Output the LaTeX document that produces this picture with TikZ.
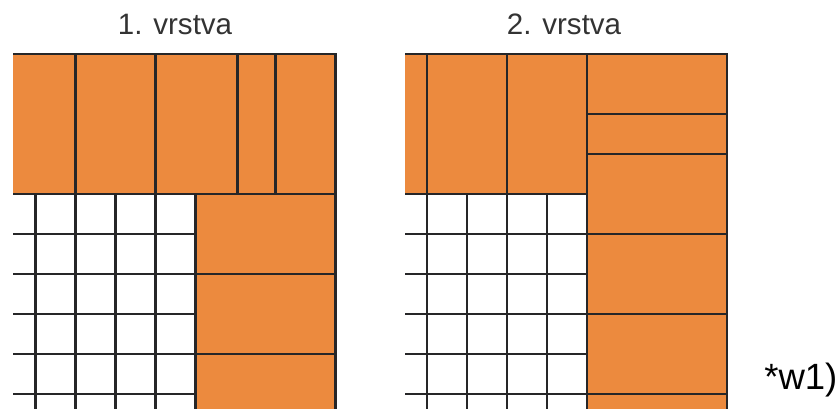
\documentclass[tikz,border=0pt]{standalone}
\usepackage{fontspec}
\setmainfont{Liberation Sans}
\usepackage{xcolor}
\definecolor{brick}{RGB}{236,138,62}
\definecolor{joint}{RGB}{38,38,40}
\usepackage{tikz}
\usetikzlibrary{
    arrows.meta,
    positioning,
    calc
}

\begin{document}
\begin{tikzpicture}[
        paver/.style={fill=brick, draw=none},
        seam/.style={draw=joint, line width=1.9pt},
        heading/.style={anchor=base, inner sep=0pt, font=\fontsize{21}{25}\selectfont, text=black!80}
    ]
        \useasboundingbox (0,0) rectangle (20.925,-10.225);
        \clip (0,0) rectangle (20.925,-10.225);

        % titles
        \node[heading] (title1) at (4.375,-0.875) {1. vrstva};
        \node[heading] (title2) at (14.1,-0.875) {2. vrstva};
        \node[anchor=base west, inner sep=0pt, font=\fontsize{26}{30}\selectfont] (note) at (19.1,-9.75) {*w1)};

        % 1. vrstva
        \begin{scope}[shift={(0.8875,-4.85)}]
            \fill[paver] (-0.55,0) rectangle (7.5,3.5);
            \fill[paver] (4,0) rectangle (7.5,-6);
            \draw[seam] (-0.55,3.5) -- (7.5,3.5) -- (7.5,-6);
            \draw[seam] (-0.55,0) -- (7.5,0);
            \foreach \x in {1,3,5.05,6}
                \draw[seam] (\x,0) -- (\x,3.5);
            \foreach \y in {-1,-3,-5}
                \draw[seam] (-0.55,\y) -- (4,\y);
            \foreach \y in {-2,-4}
                \draw[seam] (-0.55,\y) -- (7.5,\y);
            \foreach \x in {0,1,2,3,4}
                \draw[seam] (\x,0) -- (\x,-6);
        \end{scope}

        % 2. vrstva
        \begin{scope}[shift={(10.675,-4.85)}]
            \fill[paver] (-0.55,0) rectangle (4,3.5);
            \fill[paver] (4,3.5) rectangle (7.5,-6);
            \draw[seam] (-0.55,3.5) -- (7.5,3.5) -- (7.5,-6);
            \draw[seam] (-0.55,0) -- (4,0);
            \foreach \x in {0,2}
                \draw[seam] (\x,0) -- (\x,3.5);
            \draw[seam] (4,3.5) -- (4,-6);
            \foreach \y in {2,1,-1,-3,-5}
                \draw[seam] (4,\y) -- (7.5,\y);
            \foreach \y in {-1,-2,-3,-4,-5}
                \draw[seam] (-0.55,\y) -- (4,\y);
            \foreach \x in {0,1,2,3}
                \draw[seam] (\x,0) -- (\x,-6);
        \end{scope}
    \end{tikzpicture}
\end{document}
